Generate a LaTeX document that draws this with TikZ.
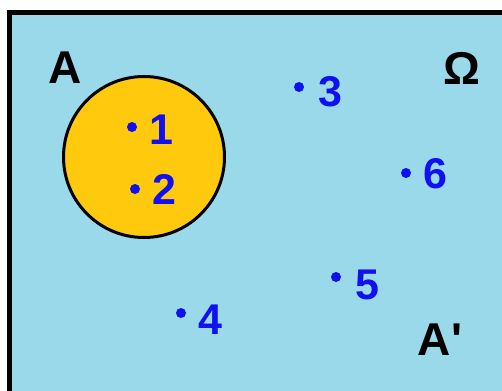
\documentclass[tikz,border=0pt]{standalone}
\usepackage{fontspec}
\setmainfont{Liberation Sans}[Ligatures=TeXOff]
\definecolor{bgblue}{RGB}{153,217,234}
\definecolor{setyellow}{RGB}{255,201,14}
\definecolor{ptblue}{RGB}{16,16,240}
\tikzset{
  pt/.style={circle,fill=ptblue,inner sep=0pt,minimum size=10pt},
  num/.style={text=ptblue,font=\fontsize{43}{43}\bfseries\selectfont,inner sep=0pt},
  lbl/.style={text=black,font=\fontsize{46}{46}\bfseries\selectfont,inner sep=0pt}
}
\begin{document}
\begin{tikzpicture}[x=1pt,y=-1pt]
\useasboundingbox (0,0) rectangle (502,390);
\clip (0,0) rectangle (502,390);
\draw[line width=5pt,fill=bgblue] (9.5,12.5) rectangle (520,410);
\node[circle,draw=black,line width=3pt,fill=setyellow,minimum size=161pt,inner sep=0pt] (A) at (144,157) {};
\node[lbl] (la) at (65,68) {A};
\node[lbl] (lo) at (462,68) {Ω};
\node[lbl] (lc) at (440,340) {A'};
\node[pt] (p1) at (132,127) {};
\node[num] (n1) at (161,130) {1};
\node[pt] (p2) at (135,189) {};
\node[num] (n2) at (164,189) {2};
\node[pt] (p3) at (299,87) {};
\node[num] (n3) at (330,92) {3};
\node[pt] (p6) at (406,173) {};
\node[num] (n6) at (435,174) {6};
\node[pt] (p5) at (336,277) {};
\node[num] (n5) at (367,285) {5};
\node[pt] (p4) at (181,313) {};
\node[num] (n4) at (210,320) {4};
\end{tikzpicture}
\end{document}
